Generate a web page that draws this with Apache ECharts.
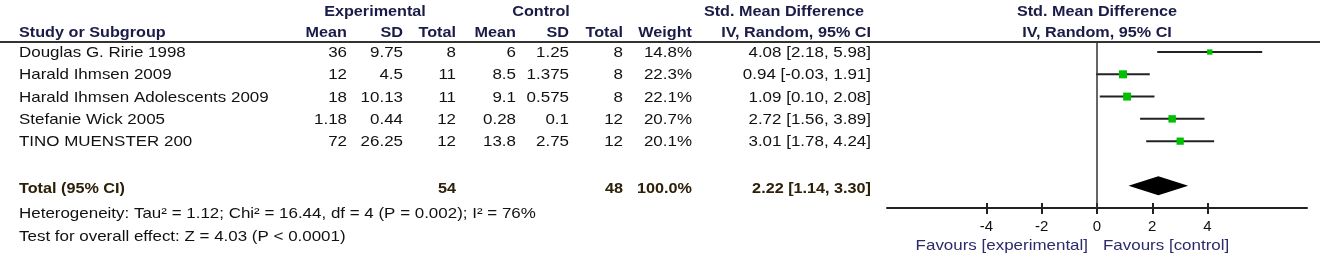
<!DOCTYPE html>
<html>
<head>
<meta charset="utf-8">
<script src="https://cdn.jsdelivr.net/npm/echarts@6/dist/echarts.min.js"></script>
<style>
  html, body { margin: 0; padding: 0; background: #fff; }
  #main { width: 1325px; height: 258px; }
</style>
</head>
<body>
<div id="main"></div>
<script>
// study rows
var studies = ['Douglas G. Ririe 1998', 'Harald Ihmsen 2009', 'Harald Ihmsen Adolescents 2009', 'Stefanie Wick 2005', 'TINO MUENSTER 200'];
var expMean = ['36', '12', '18', '1.18', '72'];
var expSD = ['9.75', '4.5', '10.13', '0.44', '26.25'];
var expTotal = [8, 11, 11, 12, 12];
var ctlMean = ['6', '8.5', '9.1', '0.28', '13.8'];
var ctlSD = ['1.25', '1.375', '0.575', '0.1', '2.75'];
var ctlTotal = [8, 8, 8, 12, 12];
var weight = [14.8, 22.3, 22.1, 20.7, 20.1];
var smd = [4.08, 0.94, 1.09, 2.72, 3.01];
var lower = [2.18, -0.03, 0.10, 1.56, 1.78];
var upper = [5.98, 1.91, 2.08, 3.89, 4.24];

// pooled result
var pooled = { smd: 2.22, lower: 1.14, upper: 3.30, expTotal: 54, ctlTotal: 48, weight: 100.0 };
var heterogeneity = 'Heterogeneity: Tau\u00b2 = 1.12; Chi\u00b2 = 16.44, df = 4 (P = 0.002); I\u00b2 = 76%';
var overallTest = 'Test for overall effect: Z = 4.03 (P < 0.0001)';

var tickValues = [-4, -2, 0, 2, 4];
var totalRow = 6;

var FONT = "'Liberation Sans', Arial, sans-serif";
var HEAD = '#1b1b47';
var TOT = '#2e2008';

var chart = echarts.init(document.getElementById('main'));

function ciText(m, l, u) {
  return m.toFixed(2) + ' [' + l.toFixed(2) + ', ' + u.toFixed(2) + ']';
}

var ciData = smd.map(function (v, i) {
  return [v, i, lower[i], upper[i], weight[i]];
});

var option = {
  animation: false,
  grid: { left: 887, right: 18, top: 42, bottom: 50 },
  xAxis: [
    {
      type: 'value',
      min: -7.6,
      max: 7.6,
      position: 'bottom',
      axisLine: { show: true, onZero: false, lineStyle: { color: '#222', width: 2 } },
      axisTick: { show: true, length: 6, customValues: tickValues, lineStyle: { color: '#222', width: 2 } },
      axisLabel: { show: true, customValues: tickValues, color: '#111', fontFamily: FONT, fontSize: 15, margin: 11 },
      splitLine: { show: false }
    },
    {
      type: 'value',
      min: -7.6,
      max: 7.6,
      position: 'bottom',
      axisLine: { show: false, onZero: false },
      axisTick: { show: true, inside: true, length: 5, customValues: tickValues, lineStyle: { color: '#222', width: 2 } },
      axisLabel: { show: false },
      splitLine: { show: false }
    }
  ],
  yAxis: {
    type: 'value',
    inverse: true,
    min: -0.45,
    max: 7,
    show: false
  },
  series: [
    {
      type: 'line',
      data: [[0, -0.45], [0, 7]],
      symbol: 'none',
      lineStyle: { color: '#333', width: 1.5 },
      silent: true
    },
    {
      type: 'custom',
      data: ciData,
      renderItem: function (params, api) {
        var c = api.coord([api.value(0), api.value(1)]);
        var l = api.coord([api.value(2), api.value(1)]);
        var u = api.coord([api.value(3), api.value(1)]);
        var s = api.value(4) * 0.36;
        return {
          type: 'group',
          children: [
            { type: 'line', shape: { x1: l[0], y1: l[1], x2: u[0], y2: u[1] }, style: { stroke: '#222', lineWidth: 2 } },
            { type: 'rect', shape: { x: c[0] - s / 2, y: c[1] - s / 2, width: s, height: s }, style: { fill: '#00c000' } }
          ]
        };
      }
    },
    {
      type: 'custom',
      data: [[pooled.smd, totalRow, pooled.lower, pooled.upper]],
      renderItem: function (params, api) {
        var c = api.coord([api.value(0), api.value(1)]);
        var l = api.coord([api.value(2), api.value(1)]);
        var u = api.coord([api.value(3), api.value(1)]);
        var h = 9.5;
        return {
          type: 'polygon',
          shape: { points: [[l[0], c[1]], [c[0], c[1] - h], [u[0], c[1]], [c[0], c[1] + h]] },
          style: { fill: '#000' }
        };
      }
    }
  ]
};

chart.setOption(option);

// text is a bit wider in the reference than Liberation Sans, so stretch it
function txt(x, y, s, align, bold, color) {
  return {
    type: 'text',
    x: x,
    y: y,
    scaleX: bold ? 1.08 : 1.13,
    silent: true,
    style: {
      x: 0, y: 0,
      text: s,
      textAlign: align || 'left',
      textVerticalAlign: 'middle',
      fontFamily: FONT,
      fontSize: 15,
      fontWeight: bold ? 'bold' : 'normal',
      fill: color || '#111'
    }
  };
}

// table columns (right edges)
var colExpMean = 347, colExpSD = 403, colExpTot = 456;
var colCtlMean = 516, colCtlSD = 569, colCtlTot = 623;
var colWeight = 692, colCI = 871;

var els = [];
// headers
els.push(txt(375, 12, 'Experimental', 'center', true, HEAD));
els.push(txt(541, 12, 'Control', 'center', true, HEAD));
els.push(txt(784, 12, 'Std. Mean Difference', 'center', true, HEAD));
els.push(txt(1097, 12, 'Std. Mean Difference', 'center', true, HEAD));
els.push(txt(19, 33, 'Study or Subgroup', 'left', true, HEAD));
els.push(txt(colExpMean, 33, 'Mean', 'right', true, HEAD));
els.push(txt(colExpSD, 33, 'SD', 'right', true, HEAD));
els.push(txt(colExpTot, 33, 'Total', 'right', true, HEAD));
els.push(txt(colCtlMean, 33, 'Mean', 'right', true, HEAD));
els.push(txt(colCtlSD, 33, 'SD', 'right', true, HEAD));
els.push(txt(colCtlTot, 33, 'Total', 'right', true, HEAD));
els.push(txt(colWeight, 33, 'Weight', 'right', true, HEAD));
els.push(txt(colCI, 33, 'IV, Random, 95% CI', 'right', true, HEAD));
els.push(txt(1097, 33, 'IV, Random, 95% CI', 'center', true, HEAD));
els.push({ type: 'line', silent: true, shape: { x1: 0, y1: 42, x2: 1320, y2: 42 }, style: { stroke: '#333', lineWidth: 2 } });

studies.forEach(function (name, i) {
  var y = chart.convertToPixel({ yAxisIndex: 0 }, i) + 1;
  els.push(txt(19, y, name, 'left'));
  els.push(txt(colExpMean, y, expMean[i], 'right'));
  els.push(txt(colExpSD, y, expSD[i], 'right'));
  els.push(txt(colExpTot, y, String(expTotal[i]), 'right'));
  els.push(txt(colCtlMean, y, ctlMean[i], 'right'));
  els.push(txt(colCtlSD, y, ctlSD[i], 'right'));
  els.push(txt(colCtlTot, y, String(ctlTotal[i]), 'right'));
  els.push(txt(colWeight, y, weight[i].toFixed(1) + '%', 'right'));
  els.push(txt(colCI, y, ciText(smd[i], lower[i], upper[i]), 'right'));
});

var ty = chart.convertToPixel({ yAxisIndex: 0 }, totalRow) + 3;
els.push(txt(19, ty, 'Total (95% CI)', 'left', true, TOT));
els.push(txt(colExpTot, ty, String(pooled.expTotal), 'right', true, TOT));
els.push(txt(colCtlTot, ty, String(pooled.ctlTotal), 'right', true, TOT));
els.push(txt(colWeight, ty, pooled.weight.toFixed(1) + '%', 'right', true, TOT));
els.push(txt(colCI, ty, ciText(pooled.smd, pooled.lower, pooled.upper), 'right', true, TOT));
els.push(txt(19, 214, heterogeneity, 'left'));
els.push(txt(19, 237, overallTest, 'left'));

// favours labels
els.push(txt(1088, 246, 'Favours [experimental]', 'right', false, '#2b2b6b'));
els.push(txt(1103, 246, 'Favours [control]', 'left', false, '#2b2b6b'));

chart.setOption({ graphic: { elements: els } });
</script>
</body>
</html>
